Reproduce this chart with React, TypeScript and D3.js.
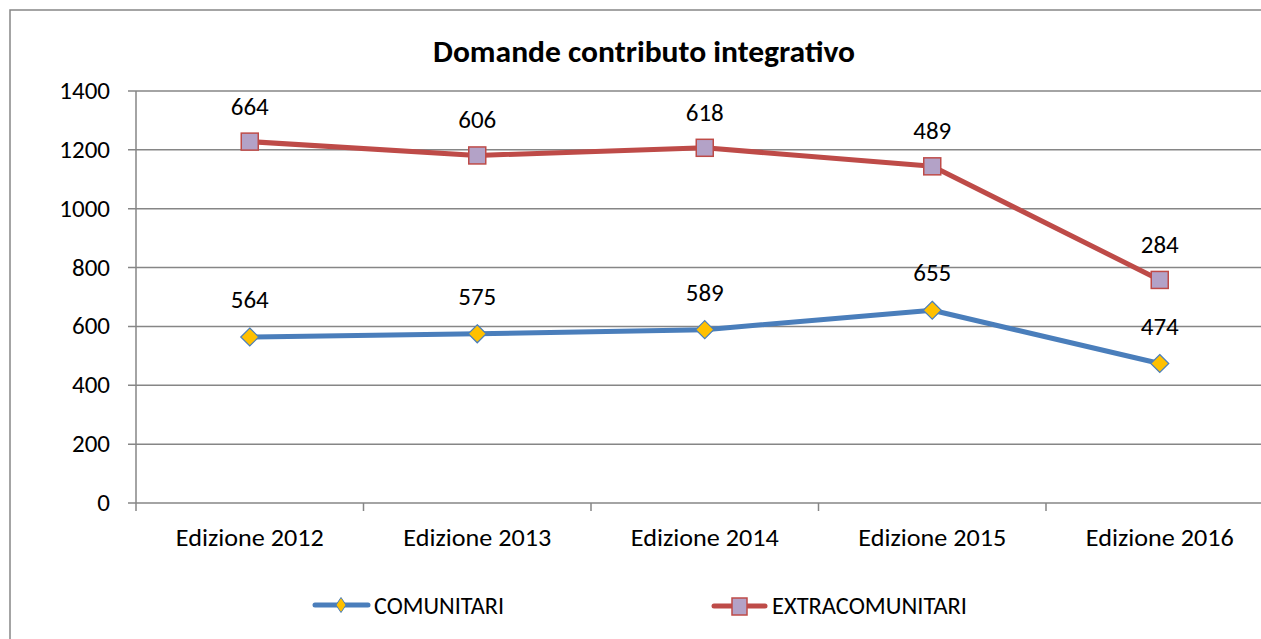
import React from "react";
import * as d3 from "d3";

const categories = ["Edizione 2012", "Edizione 2013", "Edizione 2014", "Edizione 2015", "Edizione 2016"];
const comunitari = [564, 575, 589, 655, 474];
const extracomunitari = [664, 606, 618, 489, 284];
const yTicks = [0, 200, 400, 600, 800, 1000, 1200, 1400];
const seriesNames = ["COMUNITARI", "EXTRACOMUNITARI"];
const title = "Domande contributo integrativo";

const W = 1261, H = 639;
const left = 136, right = 1273.5, top = 91, bottom = 503;
const font = "Carlito, Calibri, Lato, 'Open Sans', sans-serif";
const blue = "#4A7EBB", red = "#BE4B48", gold = "#FFC000", lilac = "#B3A2C7";
const grid = "#868686";

export default function App() {
  const x = d3.scaleBand<string>().domain(categories).range([left, right]);
  const y = d3.scaleLinear().domain([0, 1400]).range([bottom, top]);
  const cx = (c: string) => (x(c) as number) + x.bandwidth() / 2;
  const stacked = extracomunitari.map((v, i) => v + comunitari[i]);
  const line = d3.line<[number, number]>().x(d => d[0]).y(d => d[1]);
  const pts1: [number, number][] = categories.map((c, i) => [cx(c), y(comunitari[i])]);
  const pts2: [number, number][] = categories.map((c, i) => [cx(c), y(stacked[i])]);
  const diamond = (px: number, py: number, rx = 9, ry = 9) => `M${px},${py - ry}L${px + rx},${py}L${px},${py + ry}L${px - rx},${py}Z`;
  return (
    <svg width={W} height={H} style={{ position: "absolute", left: 0, top: 0, background: "#fff" }}>
      <rect x={10} y={10} width={W + 20} height={H + 20} fill="#fff" stroke="#868686" strokeWidth={1.5} />
      <text x={644} y={62} textAnchor="middle" fontFamily={font} fontWeight="bold" fontSize={30} textLength={422} lengthAdjust="spacingAndGlyphs" fill="#000">{title}</text>
      {yTicks.map(t => (
        <g key={t}>
          <line x1={128} x2={right} y1={y(t)} y2={y(t)} stroke={grid} strokeWidth={1.5} />
          <text x={110} y={y(t) + 8} textAnchor="end" fontFamily={font} fontSize={25} fill="#000">{t}</text>
        </g>
      ))}
      <line x1={left} x2={left} y1={top} y2={bottom + 8} stroke={grid} strokeWidth={1.5} />
      {categories.map((c, i) => (
        <g key={c}>
          {i > 0 && <line x1={x(c)} x2={x(c)} y1={bottom} y2={bottom + 8} stroke={grid} strokeWidth={1.5} />}
          <text x={cx(c)} y={546} textAnchor="middle" fontFamily={font} fontSize={25} textLength={148} lengthAdjust="spacingAndGlyphs" fill="#000">{c}</text>
        </g>
      ))}
      <path d={line(pts1) as string} fill="none" stroke={blue} strokeWidth={5} strokeLinejoin="round" />
      <path d={line(pts2) as string} fill="none" stroke={red} strokeWidth={5} strokeLinejoin="round" />
      {pts1.map((p, i) => (
        <g key={"a" + i}>
          <path d={diamond(p[0], p[1])} fill={gold} stroke={blue} strokeWidth={1.2} />
          <text x={p[0]} y={p[1] - 29} textAnchor="middle" fontFamily={font} fontSize={25} fill="#000">{comunitari[i]}</text>
        </g>
      ))}
      {pts2.map((p, i) => (
        <g key={"b" + i}>
          <rect x={p[0] - 8.5} y={p[1] - 8.5} width={17} height={17} fill={lilac} stroke={red} strokeWidth={1.5} />
          <text x={p[0]} y={p[1] - 27} textAnchor="middle" fontFamily={font} fontSize={25} fill="#000">{extracomunitari[i]}</text>
        </g>
      ))}
      <g>
        <line x1={315} x2={368} y1={605} y2={605} stroke={blue} strokeWidth={5} strokeLinecap="round" />
        <path d={diamond(341, 605, 5, 7.5)} fill={gold} stroke={blue} strokeWidth={1} />
        <text x={374} y={614} fontFamily={font} fontSize={24} textLength={130} lengthAdjust="spacingAndGlyphs" fill="#000">{seriesNames[0]}</text>
        <line x1={714} x2={765} y1={606} y2={606} stroke={red} strokeWidth={5} strokeLinecap="round" />
        <rect x={732} y={598} width={15} height={17} fill={lilac} stroke={red} strokeWidth={1.5} />
        <text x={772} y={614} fontFamily={font} fontSize={24} textLength={195} lengthAdjust="spacingAndGlyphs" fill="#000">{seriesNames[1]}</text>
      </g>
    </svg>
  );
}
